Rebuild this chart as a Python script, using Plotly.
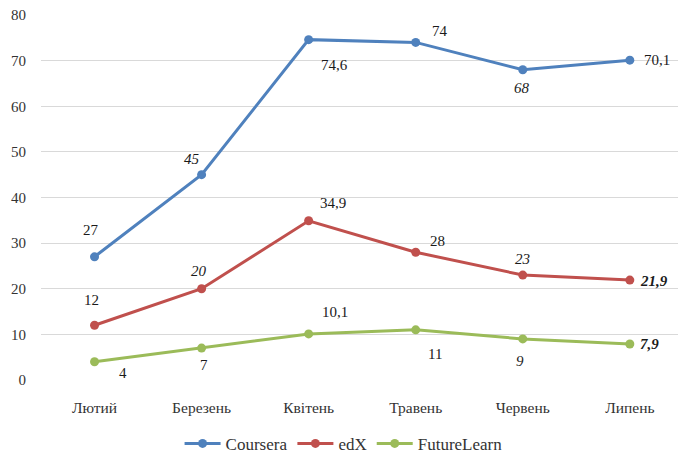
import plotly.graph_objects as go

months = ["Лютий", "Березень", "Квітень", "Травень", "Червень", "Липень"]
coursera = [27, 45, 74.6, 74, 68, 70.1]
edx = [12, 20, 34.9, 28, 23, 21.9]
futurelearn = [4, 7, 10.1, 11, 9, 7.9]

coursera_labels = ["27", "<i>45</i>", "74,6", "74", "<i>68</i>", "70,1"]
edx_labels = ["12", "<i>20</i>", "34,9", "28", "<i>23</i>", "<b><i>21,9</i></b>"]
fl_labels = ["4", "7", "10,1", "11", "<i>9</i>", "<b><i>7,9</i></b>"]

# label offsets in pixels (xshift, yshift, xanchor)
coursera_off = [(-4, 27, "center"), (-10, 16, "center"), (26, -25, "center"),
                (24, 11, "center"), (-1, -18, "center"), (12, 0, "left")]
edx_off = [(-3, 25, "center"), (-3, 18, "center"), (24, 18, "center"),
           (22, 11, "center"), (0, 16, "center"), (8, -1, "left")]
fl_off = [(28, -11, "center"), (2, -17, "center"), (26, 22, "center"),
          (19, -24, "center"), (-3, -22, "center"), (8, 0, "left")]

colors = {"Coursera": "#4F81BD", "edX": "#C0504D", "FutureLearn": "#9BBB59"}
FONT = '"Liberation Serif", "Times New Roman", serif'

fig = go.Figure()
series = [("Coursera", coursera, coursera_labels, coursera_off),
          ("edX", edx, edx_labels, edx_off),
          ("FutureLearn", futurelearn, fl_labels, fl_off)]

annotations = []
for name, vals, labels, offs in series:
    fig.add_trace(go.Scatter(
        x=months, y=vals, mode="lines+markers", name=name,
        line=dict(color=colors[name], width=3),
        marker=dict(color=colors[name], size=9),
    ))
    for m, v, lab, (dx, dy, xa) in zip(months, vals, labels, offs):
        annotations.append(dict(
            x=m, y=v, xref="x", yref="y", text=lab, showarrow=False,
            xshift=dx, yshift=dy, xanchor=xa, yanchor="middle",
            font=dict(family=FONT, size=15, color="#1a1a1a"),
        ))

fig.update_layout(
    width=679, height=456,
    margin=dict(l=41, r=1, t=15, b=76, autoexpand=False),
    paper_bgcolor="white", plot_bgcolor="white",
    font=dict(family=FONT, size=15, color="#333333"),
    showlegend=True,
    legend=dict(orientation="h", x=0.475, xanchor="center", y=-0.175,
                yanchor="middle", font=dict(family=FONT, size=17, color="#333333"),
                itemwidth=36, traceorder="normal"),
    annotations=annotations,
)
fig.update_xaxes(
    type="category", range=[-0.5, 5.45], showgrid=False, showline=False,
    zeroline=False, ticks="", ticklabelstandoff=16, automargin=False,
    tickfont=dict(family=FONT, size=15.5, color="#333333"),
)
fig.update_yaxes(
    range=[0, 80], dtick=10, showgrid=True, gridcolor="#D9D9D9", gridwidth=1,
    zeroline=False, showline=False, ticks="", ticklabelstandoff=14, automargin=False,
    tickfont=dict(family=FONT, size=15, color="#333333"),
)

fig.write_html("out.html", config={"displayModeBar": False},
               post_script="document.body.style.margin='0';")
